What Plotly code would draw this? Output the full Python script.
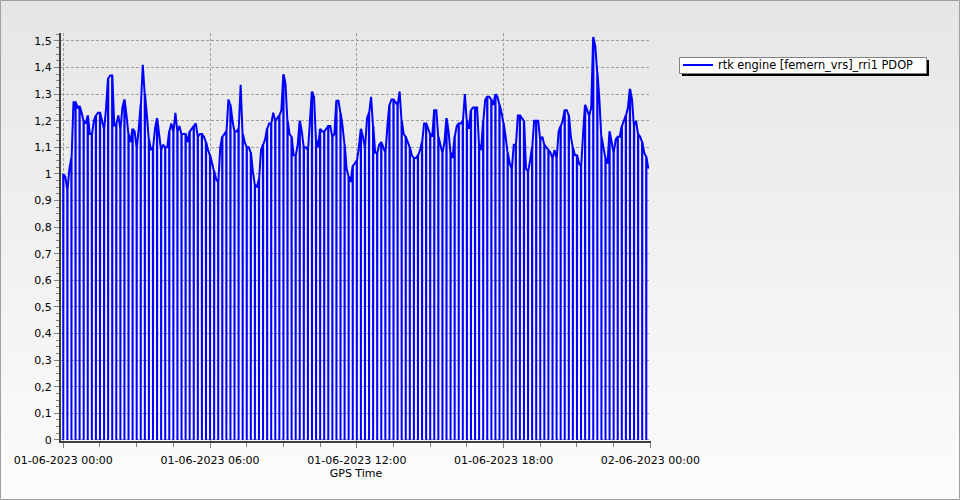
import plotly.graph_objects as go
import pandas as pd

# ---- data ----
series_name = "rtk engine [femern_vrs]_rri1 PDOP"
start_time = "2023-06-01 00:00"
sample_step = "5min"           # PDOP readings every 5 minutes
dropout_every = 2              # every 2nd reading is followed by a 0 (dropout) record
pdop = [1.00, 0.99, 0.94, 1.02, 1.06, 1.27, 1.27, 1.25, 1.255, 1.23,
        1.20, 1.19, 1.22, 1.15, 1.15, 1.20, 1.22, 1.23, 1.23, 1.20,
        1.17, 1.25, 1.36, 1.37, 1.37, 1.18, 1.19, 1.22, 1.17, 1.25,
        1.28, 1.22, 1.15, 1.12, 1.17, 1.16, 1.10, 1.17, 1.26, 1.41,
        1.30, 1.22, 1.13, 1.09, 1.10, 1.17, 1.21, 1.15, 1.09, 1.11,
        1.10, 1.10, 1.16, 1.19, 1.16, 1.23, 1.16, 1.18, 1.15, 1.15,
        1.15, 1.12, 1.16, 1.17, 1.18, 1.19, 1.14, 1.15, 1.15, 1.14,
        1.12, 1.09, 1.07, 1.04, 1.01, 0.98, 0.97, 1.10, 1.14, 1.15,
        1.16, 1.28, 1.26, 1.20, 1.16, 1.16, 1.17, 1.335, 1.15, 1.12,
        1.10, 1.10, 1.08, 1.01, 0.96, 0.95, 0.98, 1.09, 1.11, 1.13,
        1.17, 1.19, 1.19, 1.23, 1.20, 1.21, 1.22, 1.24, 1.375, 1.34,
        1.20, 1.15, 1.14, 1.07, 1.07, 1.11, 1.20, 1.16, 1.10, 1.10,
        1.09, 1.20, 1.31, 1.29, 1.13, 1.10, 1.17, 1.16, 1.16, 1.17,
        1.18, 1.18, 1.14, 1.15, 1.275, 1.275, 1.23, 1.18, 1.11, 1.02,
        0.99, 0.97, 1.03, 1.04, 1.05, 1.10, 1.17, 1.14, 1.10, 1.21,
        1.23, 1.29, 1.18, 1.08, 1.08, 1.11, 1.12, 1.10, 1.08, 1.18,
        1.26, 1.28, 1.28, 1.27, 1.26, 1.31, 1.20, 1.15, 1.14, 1.12,
        1.10, 1.07, 1.06, 1.06, 1.07, 1.09, 1.12, 1.19, 1.19, 1.17,
        1.15, 1.14, 1.24, 1.24, 1.14, 1.11, 1.08, 1.12, 1.21, 1.16,
        1.08, 1.06, 1.14, 1.18, 1.19, 1.19, 1.20, 1.30, 1.20, 1.17,
        1.24, 1.25, 1.25, 1.25, 1.11, 1.09, 1.20, 1.28, 1.29, 1.29,
        1.28, 1.26, 1.30, 1.29, 1.26, 1.23, 1.19, 1.14, 1.08, 1.04,
        1.02, 1.11, 1.11, 1.22, 1.22, 1.21, 1.20, 1.02, 1.01, 1.05,
        1.10, 1.20, 1.20, 1.20, 1.13, 1.14, 1.11, 1.10, 1.09, 1.08,
        1.06, 1.09, 1.06, 1.16, 1.18, 1.20, 1.24, 1.24, 1.22, 1.14,
        1.10, 1.07, 1.07, 1.04, 1.03, 1.15, 1.26, 1.24, 1.22, 1.25,
        1.515, 1.48, 1.38, 1.28, 1.14, 1.10, 1.06, 1.04, 1.16, 1.12,
        1.08, 1.13, 1.14, 1.14, 1.18, 1.20, 1.22, 1.25, 1.32, 1.28,
        1.18, 1.20, 1.15, 1.14, 1.12, 1.08, 1.065, 1.02]
dropout_value = 0.0

xtick_vals = ["2023-06-01 00:00", "2023-06-01 06:00", "2023-06-01 12:00",
              "2023-06-01 18:00", "2023-06-02 00:00"]
xtick_labels = ["01-06-2023 00:00", "01-06-2023 06:00", "01-06-2023 12:00",
                "01-06-2023 18:00", "02-06-2023 00:00"]
ytick_vals = [0, 0.1, 0.2, 0.3, 0.4, 0.5, 0.6, 0.7, 0.8, 0.9, 1.0,
              1.1, 1.2, 1.3, 1.4, 1.5]
ytick_labels = ["0", "0,1", "0,2", "0,3", "0,4", "0,5", "0,6", "0,7", "0,8",
                "0,9", "1", "1,1", "1,2", "1,3", "1,4", "1,5"]
x_title = "GPS Time"

# ---- build series: readings, with dropout records inserted ----
times = pd.date_range(start_time, periods=len(pdop), freq=sample_step)
half = pd.Timedelta(seconds=20)
xs, ys = [], []
for i, (t, v) in enumerate(zip(times, pdop)):
    if i % dropout_every == 0:
        xs += [t - half, t, t + half]
        ys += [v, dropout_value, v]
    else:
        xs.append(t)
        ys.append(v)

fig = go.Figure()
fig.add_trace(go.Scatter(x=xs, y=ys, mode="lines", name=series_name,
                         line=dict(color="#0000FF", width=2),
                         showlegend=True))

# ---- layout ----
L, R, T, B = 61, 309, 33, 59
W, H = 960, 500
pw, ph = W - L - R, H - T - B

def px(x):
    return (x - L) / pw

def py(y):
    return (H - B - y) / ph

shapes = []
# vertical background gradient
n = 60
top_c, bot_c = (230, 230, 230), (252, 252, 252)
for i in range(n):
    f = i / (n - 1)
    c = tuple(int(round(top_c[k] + (bot_c[k] - top_c[k]) * f)) for k in range(3))
    y0 = H * i / n
    y1 = H * (i + 1) / n + 0.5
    shapes.append(dict(type="rect", xref="paper", yref="paper", layer="below",
                       x0=px(0), x1=px(W), y0=py(y1), y1=py(y0),
                       fillcolor="rgb(%d,%d,%d)" % c, line=dict(width=0)))
# legend frame: shadow + white box
shapes.append(dict(type="rect", xref="paper", yref="paper", layer="above",
                   x0=px(682), x1=px(929), y0=py(76), y1=py(60),
                   fillcolor="#000000", line=dict(width=0)))
shapes.append(dict(type="rect", xref="paper", yref="paper", layer="above",
                   x0=px(679.5), x1=px(926.5), y0=py(73.5), y1=py(57.5),
                   fillcolor="#FFFFFF", line=dict(color="#808080", width=1)))
# outer frame
shapes.append(dict(type="rect", xref="paper", yref="paper", layer="above",
                   x0=px(0.5), x1=px(W - 0.5), y0=py(H - 0.5), y1=py(0.5),
                   fillcolor="rgba(0,0,0,0)", line=dict(color="#A0A0A0", width=1)))

x_start = pd.Timestamp(start_time) - pd.Timedelta(minutes=5.65)
x_end = pd.Timestamp(xtick_vals[-1]) + pd.Timedelta(minutes=1.6)

fig.update_layout(
    width=W, height=H,
    margin=dict(l=L, r=R, t=T, b=B, pad=0),
    paper_bgcolor="#F0F0F0",
    plot_bgcolor="rgba(0,0,0,0)",
    separators=",.",
    font=dict(family="DejaVu Sans", size=11, color="#000000"),
    shapes=shapes,
    showlegend=True,
    legend=dict(x=px(678), y=py(50.5), xanchor="left", yanchor="top",
                bgcolor="rgba(0,0,0,0)", borderwidth=0,
                font=dict(size=11.4), tracegroupgap=0, itemwidth=30),
    xaxis=dict(
        type="date", range=[x_start, x_end],
        tickmode="array", tickvals=xtick_vals, ticktext=xtick_labels,
        ticks="outside", ticklen=5, tickcolor="#808080",
        ticklabelstandoff=3,
        showline=True, linecolor="#404040", linewidth=2,
        showgrid=True, gridcolor="#A0A0A0", gridwidth=1, griddash="3px,2px",
        zeroline=False,
        minor=dict(ticks="outside", ticklen=4, tickcolor="#808080",
                   dtick=90 * 60 * 1000, tick0=xtick_vals[0], showgrid=False),
        title=dict(text=x_title, standoff=2, font=dict(size=11)),
    ),
    yaxis=dict(
        range=[-0.004, 1.53],
        tickmode="array", tickvals=ytick_vals, ticktext=ytick_labels,
        ticks="outside", ticklen=5, tickcolor="#808080",
        showline=True, linecolor="#404040", linewidth=2,
        showgrid=True, gridcolor="#A0A0A0", gridwidth=1, griddash="3px,2px",
        zeroline=False,
        minor=dict(ticks="outside", ticklen=3, tickcolor="#808080",
                   dtick=0.025, tick0=0, showgrid=False),
    ),
)

fig.write_html("out.html", config={"displayModeBar": False},
               post_script="document.body.style.margin='0';")
